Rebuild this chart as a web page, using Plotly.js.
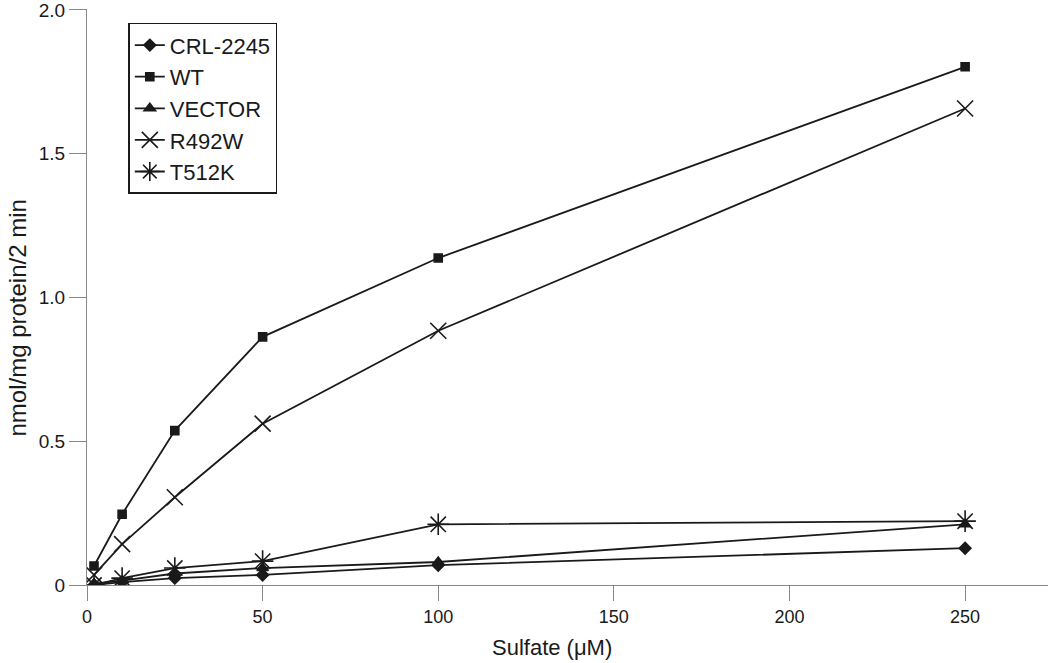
<!DOCTYPE html>
<html>
<head>
<meta charset="utf-8">
<script src="https://cdn.plot.ly/plotly-3.0.1.min.js"></script>
<style>
  body { margin: 0; background: #fff; }
  #chart { width: 1050px; height: 663px; }
</style>
</head>
<body>
<div id="chart"></div>
<script>
// sulfate concentrations (uM)
const sulfate = [2, 10, 25, 50, 100, 250];

// uptake, nmol/mg protein/2 min
const crl2245 = [0.0, 0.01, 0.024, 0.035, 0.069, 0.128];
const wt      = [0.066, 0.246, 0.537, 0.863, 1.137, 1.802];
const vector  = [0.005, 0.015, 0.04, 0.059, 0.08, 0.211];
const r492w   = [0.035, 0.142, 0.305, 0.561, 0.884, 1.657];
const t512k   = [0.0, 0.024, 0.059, 0.083, 0.211, 0.222];

const seriesNames = ["CRL-2245", "WT", "VECTOR", "R492W", "T512K"];
const seriesData = [crl2245, wt, vector, r492w, t512k];
const symbols = ["diamond", "square", "triangle-up", "x-thin-open", "asterisk-open"];
const sizes = [9, 8, 10, 16, 18];

const ink = "#1a1a1a";
const sans = "Liberation Sans, Arial, Helvetica, sans-serif";

const traces = seriesData.map((vals, i) => ({
    x: sulfate,
    y: vals,
    mode: "lines+markers",
    name: seriesNames[i],
    line: { color: ink, width: 1.8 },
    marker: { symbol: symbols[i], size: sizes[i], color: ink, line: { color: ink, width: 1.6 } }
}));

const layout = {
    width: 1050,
    height: 663,
    margin: { l: 87, r: 2, t: 9, b: 78 },
    paper_bgcolor: "#fff",
    plot_bgcolor: "#fff",
    font: { family: sans, color: ink, size: 18 },
    showlegend: true,
    legend: {
        x: 0.043, y: 0.976, xanchor: "left", yanchor: "top",
        bordercolor: ink, borderwidth: 1.5, bgcolor: "#fff",
        font: { size: 22, family: sans },
        tracegroupgap: 0
    },
    xaxis: {
        range: [0, 273.6],
        tickvals: [0, 50, 100, 150, 200, 250],
        ticks: "outside", ticklen: 15, tickcolor: "#888", tickwidth: 1.3,
        showline: true, linecolor: "#888", linewidth: 1.3,
        showgrid: false, zeroline: false,
        tickfont: { size: 18 }
    },
    yaxis: {
        range: [0, 2.003],
        tickvals: [0, 0.5, 1.0, 1.5, 2.0],
        ticktext: ["0", "0.5", "1.0", "1.5", "2.0"],
        ticklabeloverflow: "allow",
        ticks: "outside", ticklen: 17, tickcolor: "#888", tickwidth: 1.3,
        showline: true, linecolor: "#888", linewidth: 1.3,
        showgrid: false, zeroline: false,
        tickfont: { size: 19 }
    },
    annotations: [
        { text: "nmol/mg protein/2 min", xref: "paper", yref: "paper",
          x: -0.0728, y: 0.4627, xanchor: "center", yanchor: "middle",
          textangle: -90, showarrow: false, font: { size: 24 } },
        { text: "Sulfate (μM)", xref: "paper", yref: "paper",
          x: 0.4839, y: -0.109, xanchor: "center", yanchor: "middle",
          showarrow: false, font: { size: 22 } }
    ]
};

Plotly.newPlot("chart", traces, layout, { displayModeBar: false });
</script>
</body>
</html>
